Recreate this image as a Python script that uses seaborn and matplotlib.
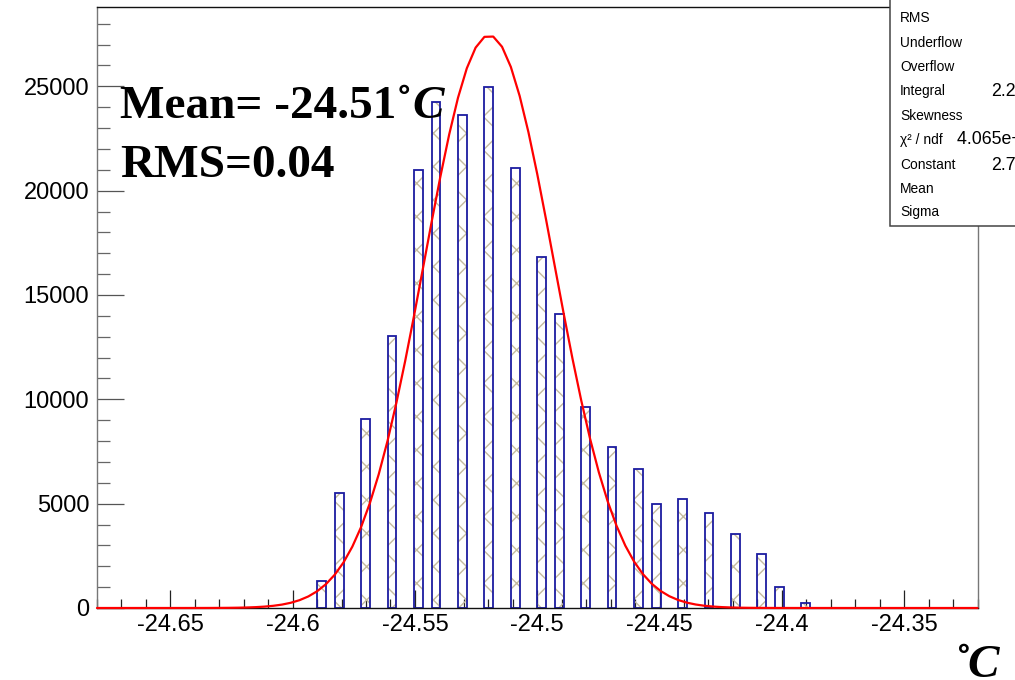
import numpy as np
import pandas as pd
import matplotlib
matplotlib.use("Agg")
import matplotlib.pyplot as plt
import seaborn as sns
from matplotlib.patches import Rectangle
from matplotlib.ticker import MultipleLocator, FuncFormatter

# Histogram window: 100 bins from -24.68 to -24.32 degC
x_min, x_max, n_bins = -24.68, -24.32, 100

# Temperature readings (bin centres) and number of entries at each
temperature = [-24.5882, -24.5810, -24.5702, -24.5594, -24.5486, -24.5414,
               -24.5306, -24.5198, -24.5090, -24.4982, -24.4910, -24.4802,
               -24.4694, -24.4586, -24.4514, -24.4406, -24.4298, -24.4190,
               -24.4082, -24.4010, -24.3902]
entries = [1300, 5520, 9050, 13030, 20980, 24230, 23610, 24950, 21070,
           16810, 14080, 9630, 7710, 6660, 4980, 5220, 4550, 3540, 2590,
           1000, 240]

# Gaussian fit parameters
fit_constant = 27440.0
fit_mean = -24.5197
fit_sigma = 0.02645

# Statistics panel
stat_names = ["RMS", "Underflow", "Overflow", "Integral", "Skewness",
              "\u03c7\u00b2 / ndf", "Constant", "Mean", "Sigma"]
stat_values = {"Integral": "2.208e+05", "\u03c7\u00b2 / ndf": "4.065e+04 / 17",
               "Constant": "2.744e+04"}

df = pd.DataFrame({"temperature": temperature, "entries": entries})

sns.set_style("white")
plt.rcParams["font.family"] = ["Liberation Sans", "DejaVu Sans"]
plt.rcParams["text.color"] = "black"
plt.rcParams["xtick.color"] = "black"
plt.rcParams["ytick.color"] = "black"
plt.rcParams["hatch.linewidth"] = 1.0

W, H = 1015, 680
fig = plt.figure(figsize=(W / 100, H / 100), dpi=100)
ax = fig.add_axes([97 / W, 72 / H, (977.5 - 97) / W, 601 / H])

# cross-hatched fill
sns.histplot(data=df, x="temperature", weights="entries", bins=n_bins,
             binrange=(x_min, x_max), ax=ax, element="bars", fill=True,
             facecolor="none", edgecolor="#c4bb9f", hatch="x", linewidth=0,
             zorder=1)
# bar outlines
sns.histplot(data=df, x="temperature", weights="entries", bins=n_bins,
             binrange=(x_min, x_max), ax=ax, element="bars", fill=True,
             facecolor="none", edgecolor="#1b1ba0", linewidth=1.3,
             zorder=1.2)
for p in list(ax.patches):
    if p.get_height() == 0:
        p.remove()

# fitted gaussian
xs = np.linspace(x_min, x_max, n_bins + 1)
ys = fit_constant * np.exp(-0.5 * ((xs - fit_mean) / fit_sigma) ** 2)
sns.lineplot(x=xs, y=ys, ax=ax, color="#ff0000", linewidth=1.6,
             zorder=4, clip_on=False)

ax.set_xlim(x_min, x_max)
ax.set_ylim(0, 28800)
ax.set_xlabel("")
ax.set_ylabel("")

ax.xaxis.set_major_locator(MultipleLocator(0.05))
ax.xaxis.set_minor_locator(MultipleLocator(0.01))
ax.yaxis.set_major_locator(MultipleLocator(5000))
ax.yaxis.set_minor_locator(MultipleLocator(1000))
ax.xaxis.set_major_formatter(FuncFormatter(lambda v, _: f"{round(v, 2):g}"))
ax.yaxis.set_major_formatter(FuncFormatter(lambda v, _: f"{int(round(v))}"))

ax.tick_params(bottom=True, left=True, top=False, right=False, which="both")
ax.tick_params(axis="x", which="major", direction="in", length=13,
               width=0.9, color="#222222", labelsize=17, pad=4)
ax.tick_params(axis="x", which="minor", direction="in", length=6.5,
               width=0.9, color="#222222")
ax.tick_params(axis="y", which="major", direction="in", length=19.4,
               width=0.9, color="#555555", labelsize=17, pad=5.5)
ax.tick_params(axis="y", which="minor", direction="in", length=9.4,
               width=0.9, color="#666666")

for side in ["left", "right"]:
    ax.spines[side].set_color("#777777")
    ax.spines[side].set_linewidth(1.0)
for side in ["top", "bottom"]:
    ax.spines[side].set_color("#111111")
    ax.spines[side].set_linewidth(1.0)

# summary text
serif = ["Liberation Serif", "DejaVu Serif"]
t_mean = fig.text(120 / W, 1 - 118 / H, "Mean= -24.51\u02da", fontsize=34,
                  fontweight="bold", family=serif, va="baseline",
                  color="black")
ax.annotate("C", xy=(1, 0), xycoords=t_mean, ha="left", va="bottom",
            fontsize=34, fontweight="bold", fontstyle="italic", family=serif,
            color="black", annotation_clip=False)
fig.text(120 / W, 1 - 177 / H, "RMS=0.04", fontsize=34, fontweight="bold",
         family=serif, va="baseline", color="black")

# axis unit
t_unit = fig.text(999 / W, 1 - 677 / H, "C", fontsize=34, fontweight="bold",
                  fontstyle="italic", family=serif, ha="right", va="baseline",
                  color="black")
ax.annotate("\u02da", xy=(0.12, 0), xycoords=t_unit, ha="right", va="bottom",
            fontsize=34, fontweight="bold", family=serif, color="black",
            annotation_clip=False)

# statistics panel, partly outside the canvas
box_left, box_bottom = 890 / W, 1 - 226 / H
fig.add_artist(Rectangle((box_left, box_bottom), 0.3, 0.5,
                         transform=fig.transFigure, facecolor="white",
                         edgecolor="#444444", linewidth=1.1, zorder=2,
                         clip_on=False))
row_px = [18, 43, 67, 91, 116, 140, 165, 189, 212]
value_px = {"Integral": 991, "\u03c7\u00b2 / ndf": 957, "Constant": 991}
for name, y in zip(stat_names, row_px):
    fig.text(900 / W, 1 - y / H, name, fontsize=9.9, va="center",
             ha="left", zorder=3, color="black")
    if name in stat_values:
        fig.text(value_px[name] / W, 1 - y / H, stat_values[name],
                 fontsize=12.8, va="center", ha="left", zorder=3,
                 color="black")

fig.savefig("out.png", dpi=100)
